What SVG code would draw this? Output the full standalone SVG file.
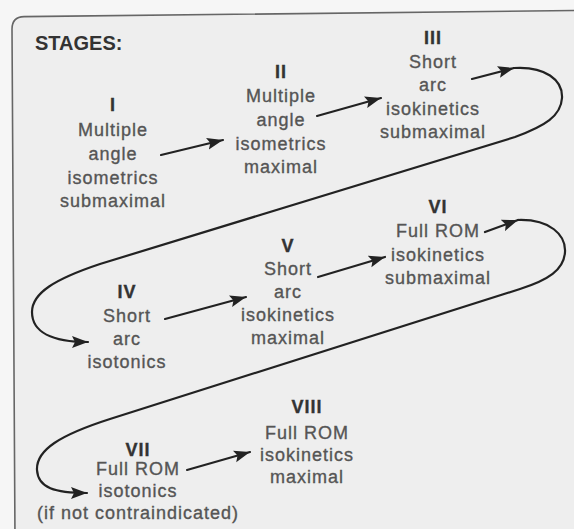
<svg xmlns="http://www.w3.org/2000/svg" width="574" height="529" viewBox="0 0 574 529">
<style>
.t{font-family:"Liberation Sans",Arial,sans-serif;font-size:18px;letter-spacing:1px;fill:#555;stroke:#555;stroke-width:0.35px;text-anchor:middle}
.n{font-weight:bold;fill:#333;stroke:#333}
.h{font-family:"Liberation Sans",Arial,sans-serif;font-size:20px;font-weight:bold;fill:#333}
.c{fill:none;stroke:#222;stroke-width:2.2;stroke-linecap:round}
</style>
<defs>
<marker id="ah" markerUnits="userSpaceOnUse" markerWidth="17" markerHeight="13" refX="16" refY="6.5" orient="auto">
<path d="M0,0.5 L16,6.5 L0,12.5 L3,6.5 Z" fill="#222"/>
</marker>
</defs>
<rect x="0" y="0" width="574" height="529" fill="#f6f6f6"/>
<path d="M15,540 L12,29 Q12,17 24,16.6 L580,10.5 L580,540 Z" fill="#eeeeee" stroke="#666" stroke-width="1.6"/>
<text class="h" x="35" y="50">STAGES:</text>
<g id="stage1">
<text class="t n" x="113" y="111">I</text>
<text class="t" x="113" y="136">Multiple</text>
<text class="t" x="113" y="160">angle</text>
<text class="t" x="113" y="184">isometrics</text>
<text class="t" x="113" y="207">submaximal</text>
</g>
<g id="stage2">
<text class="t n" x="281" y="78">II</text>
<text class="t" x="281" y="102">Multiple</text>
<text class="t" x="281" y="126">angle</text>
<text class="t" x="281" y="150">isometrics</text>
<text class="t" x="281" y="173">maximal</text>
</g>
<g id="stage3">
<text class="t n" x="433" y="44">III</text>
<text class="t" x="433" y="67.5">Short</text>
<text class="t" x="433" y="91">arc</text>
<text class="t" x="433" y="114.5">isokinetics</text>
<text class="t" x="433" y="138">submaximal</text>
</g>
<g id="stage4">
<text class="t n" x="127" y="298">IV</text>
<text class="t" x="127" y="322">Short</text>
<text class="t" x="127" y="345">arc</text>
<text class="t" x="127" y="368">isotonics</text>
</g>
<g id="stage5">
<text class="t n" x="288" y="252">V</text>
<text class="t" x="288" y="275">Short</text>
<text class="t" x="288" y="298">arc</text>
<text class="t" x="288" y="321">isokinetics</text>
<text class="t" x="288" y="344">maximal</text>
</g>
<g id="stage6">
<text class="t n" x="438" y="213">VI</text>
<text class="t" x="438" y="237">Full ROM</text>
<text class="t" x="438" y="260.5">isokinetics</text>
<text class="t" x="438" y="284">submaximal</text>
</g>
<g id="stage7">
<text class="t n" x="138" y="456">VII</text>
<text class="t" x="138" y="475">Full ROM</text>
<text class="t" x="138" y="497">isotonics</text>
<text class="t" x="138" y="519">(if not contraindicated)</text>
</g>
<g id="stage8">
<text class="t n" x="307" y="413">VIII</text>
<text class="t" x="307" y="439">Full ROM</text>
<text class="t" x="307" y="461">isokinetics</text>
<text class="t" x="307" y="483">maximal</text>
</g>
<g id="connectors">
<path class="c" d="M161,155 L223,140" marker-end="url(#ah)"/>
<path class="c" d="M317,116 L381,98" marker-end="url(#ah)"/>
<path class="c" d="M472,79 L514,68" marker-end="url(#ah)"/>
<path class="c" d="M514,68 C545,66 563,80 562,98 C561,116 545,126 515,137 L100,264 C55,279 32,293 32,312 C32,332 52,342 88,342" marker-end="url(#ah)"/>
<path class="c" d="M165,319 L246,297" marker-end="url(#ah)"/>
<path class="c" d="M318,277 L385,257" marker-end="url(#ah)"/>
<path class="c" d="M485,232 L518,220" marker-end="url(#ah)"/>
<path class="c" d="M518,220 C550,219 566,235 565,252 C564,270 548,280 520,289 L110,419 C60,435 36,450 37,470 C38,488 55,493 87,493" marker-end="url(#ah)"/>
<path class="c" d="M187,470 L250,452" marker-end="url(#ah)"/>
</g>
</svg>
